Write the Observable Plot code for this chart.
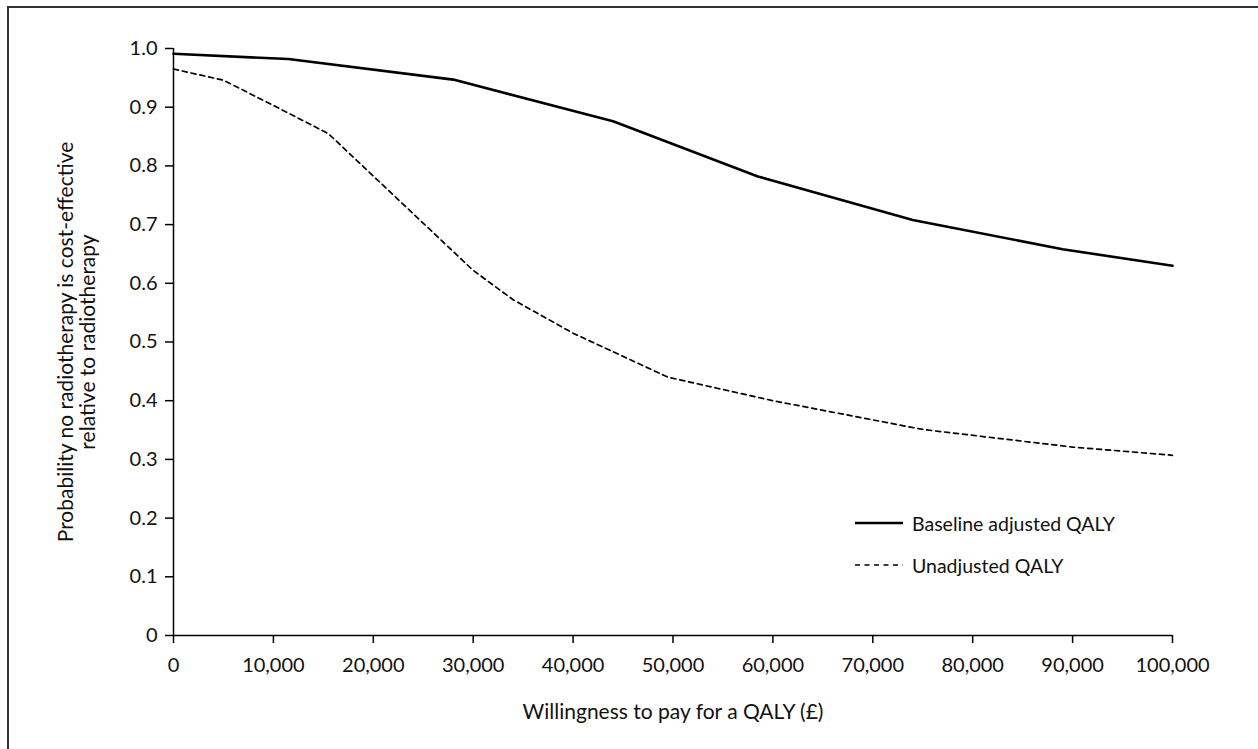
<!DOCTYPE html>
<html>
<head>
<meta charset="utf-8">
<script src="https://cdn.jsdelivr.net/npm/d3@7"></script>
<script src="https://cdn.jsdelivr.net/npm/@observablehq/plot@0.6"></script>
<style>
  html, body { margin: 0; padding: 0; background: #fff; overflow: hidden; }
  body { width: 1258px; height: 749px; position: relative; font-family: Lato, "Open Sans", sans-serif; }
  #frame { position: absolute; left: 7px; top: 6px; width: 1300px; height: 800px;
           border-top: 2px solid #333; border-left: 2px solid #333; }
  #chart { position: absolute; left: 0; top: 0; }
  .leg { position: absolute; left: 855px; display: flex; align-items: center; font-size: 19.5px; color: #111; }
  .leg svg { margin-right: 9px; }
</style>
</head>
<body>
<div id="frame"></div>
<div id="chart"></div>
<div class="leg" id="leg1" style="top:510px"></div>
<div class="leg" id="leg2" style="top:552px"></div>
<script>
// Data
const wtpBaseline  = [0, 11500, 28000, 44000, 58500, 74000, 89000, 100000];
const probBaseline = [0.991, 0.982, 0.947, 0.876, 0.782, 0.708, 0.658, 0.630];
const wtpUnadj  = [0, 5000, 10000, 15500, 30000, 34000, 40000, 49500, 60000, 75000, 90000, 100000];
const probUnadj = [0.965, 0.946, 0.903, 0.855, 0.622, 0.572, 0.515, 0.440, 0.400, 0.351, 0.321, 0.307];
const seriesNames = ["Baseline adjusted QALY", "Unadjusted QALY"];
const xTicks = [0, 10000, 20000, 30000, 40000, 50000, 60000, 70000, 80000, 90000, 100000];
const yTicks = [0, 0.1, 0.2, 0.3, 0.4, 0.5, 0.6, 0.7, 0.8, 0.9, 1.0];
const xLabel = "Willingness to pay for a QALY (£)";
const yLabel = "Probability no radiotherapy is cost-effective\nrelative to radiotherapy";

const baseline = wtpBaseline.map((x, i) => ({x, y: probBaseline[i]}));
const unadj = wtpUnadj.map((x, i) => ({x, y: probUnadj[i]}));

const plot = Plot.plot({
  width: 1258,
  height: 749,
  marginLeft: 173,
  marginRight: 86,
  marginTop: 48,
  marginBottom: 114,
  style: { fontFamily: "Lato, 'Open Sans', sans-serif", fontSize: "20px", color: "#111", background: "transparent", overflow: "visible" },
  x: { domain: [0, 100000], ticks: xTicks, tickFormat: d3.format(","), label: null },
  y: { domain: [0, 1], ticks: yTicks, tickFormat: d => d === 0 ? "0" : d.toFixed(1), label: null },
  marks: [
    Plot.axisX({ticks: xTicks, tickFormat: d3.format(","), tickSize: 8, tickPadding: 14, fontSize: 20, stroke: "#000", strokeWidth: 1.5, label: null}),
    Plot.axisY({ticks: yTicks, tickFormat: d => d === 0 ? "0" : d.toFixed(1), tickSize: 8, tickPadding: 8, fontSize: 20, stroke: "#000", strokeWidth: 1.5, label: null}),
    Plot.ruleX([0], {stroke: "#000", strokeWidth: 1.5}),
    Plot.ruleY([0], {stroke: "#000", strokeWidth: 1.5}),
    Plot.line(baseline, {x: "x", y: "y", stroke: "#000", strokeWidth: 2.6}),
    Plot.line(unadj, {x: "x", y: "y", stroke: "#000", strokeWidth: 1.7, strokeDasharray: "5,4"}),
    Plot.text([xLabel], {frameAnchor: "bottom", dy: 83, text: d => d, fontSize: 21, fill: "#111"}),
    Plot.text([yLabel], {frameAnchor: "left", textAnchor: "middle", lineAnchor: "middle", dx: -97, rotate: -90, text: d => d, fontSize: 21, fill: "#111", lineHeight: 1.05})
  ]
});
document.getElementById("chart").appendChild(plot);

// Legend
function legendItem(id, name, dash, sw) {
  const el = document.getElementById(id);
  el.innerHTML = `<svg width="48" height="26"><line x1="0" x2="48" y1="13" y2="13" stroke="#000" stroke-width="${sw}" ${dash ? `stroke-dasharray="${dash}"` : ""}/></svg><span>${name}</span>`;
}
legendItem("leg1", seriesNames[0], null, 2.6);
legendItem("leg2", seriesNames[1], "5,4.5", 1.6);
</script>
</body>
</html>
